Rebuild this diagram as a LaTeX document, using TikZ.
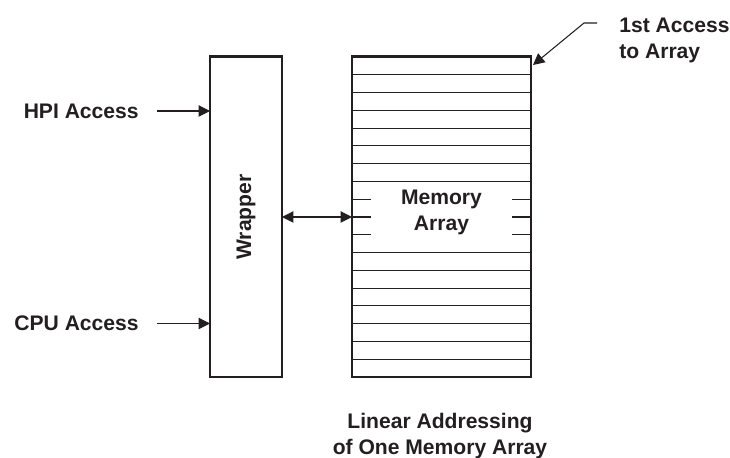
\documentclass[tikz,border=0pt]{standalone}
\usepackage{fontspec}
\setmainfont{Liberation Sans}
\usetikzlibrary{arrows.meta}
\definecolor{ink}{HTML}{231F20}

\begin{document}
\begin{tikzpicture}
[
box/.style={draw=ink,line width=1.7pt,minimum width=#1,minimum height=6.4cm,inner sep=0pt,outer sep=0pt},
lbl/.style={font=\bfseries\fontsize{12}{14.8}\selectfont,text=ink,inner sep=0pt},
row/.style={draw=ink,line width=0.6pt},
acc/.style={draw=ink,line width=0.6pt,-{Triangle[length=6.5pt,width=6.5pt]}},
dbl/.style={draw=ink,line width=0.6pt,{Triangle[length=6.5pt,width=6.5pt]}-{Triangle[length=6.5pt,width=6.5pt]}},
]
\useasboundingbox (0,0) rectangle (14.6,-9.16);

%Place the nodes
\node[box=1.44cm] (wrap) at (4.92,-4.34) {};
\node[box=3.58cm] (mem) at (8.83,-4.34) {};
\node[lbl,rotate=90] (wraplbl) at (wrap.center) {Wrapper};
\node[lbl,align=center] (memlbl) at (8.83,-4.24) {Memory\\Array};
\node[lbl,anchor=east] (hpi) at (2.78,-2.22) {HPI Access};
\node[lbl,anchor=east] (cpu) at (2.78,-6.47) {CPU Access};
\node[lbl,align=left,anchor=west] (first) at (12.38,-0.8) {1st Access\\to Array};
\node[lbl,align=center] (caption) at (8.8,-8.72) {Linear Addressing\\of One Memory Array};
\coordinate (elbow) at (11.94,-0.46);

%Draw the rows
\foreach \k in {1,2,3,4,5,6,7,11,12,13,14,15,16,17}
  \draw[row] ([yshift=-\k*0.35556cm]mem.north west) -- ([yshift=-\k*0.35556cm]mem.north east);
\foreach \k in {8,9,10}{
  \draw[row] ([yshift=-\k*0.35556cm]mem.north west) -- ++(0.38,0);
  \draw[row] ([yshift=-\k*0.35556cm]mem.north east) -- ++(-0.38,0);
}

%Draw the connections
\draw[acc,shorten <=0.36cm] (hpi.east) -- (hpi.east -| wrap.west);
\draw[acc,shorten <=0.36cm] (cpu.east) -- (cpu.east -| wrap.west);
\draw[dbl] (wrap.east) -- (mem.west);
\draw[acc] (elbow) -- ++(-0.26,0) -- ([shift={(0.04,-0.16)}]mem.north east);
\end{tikzpicture}
\end{document}
